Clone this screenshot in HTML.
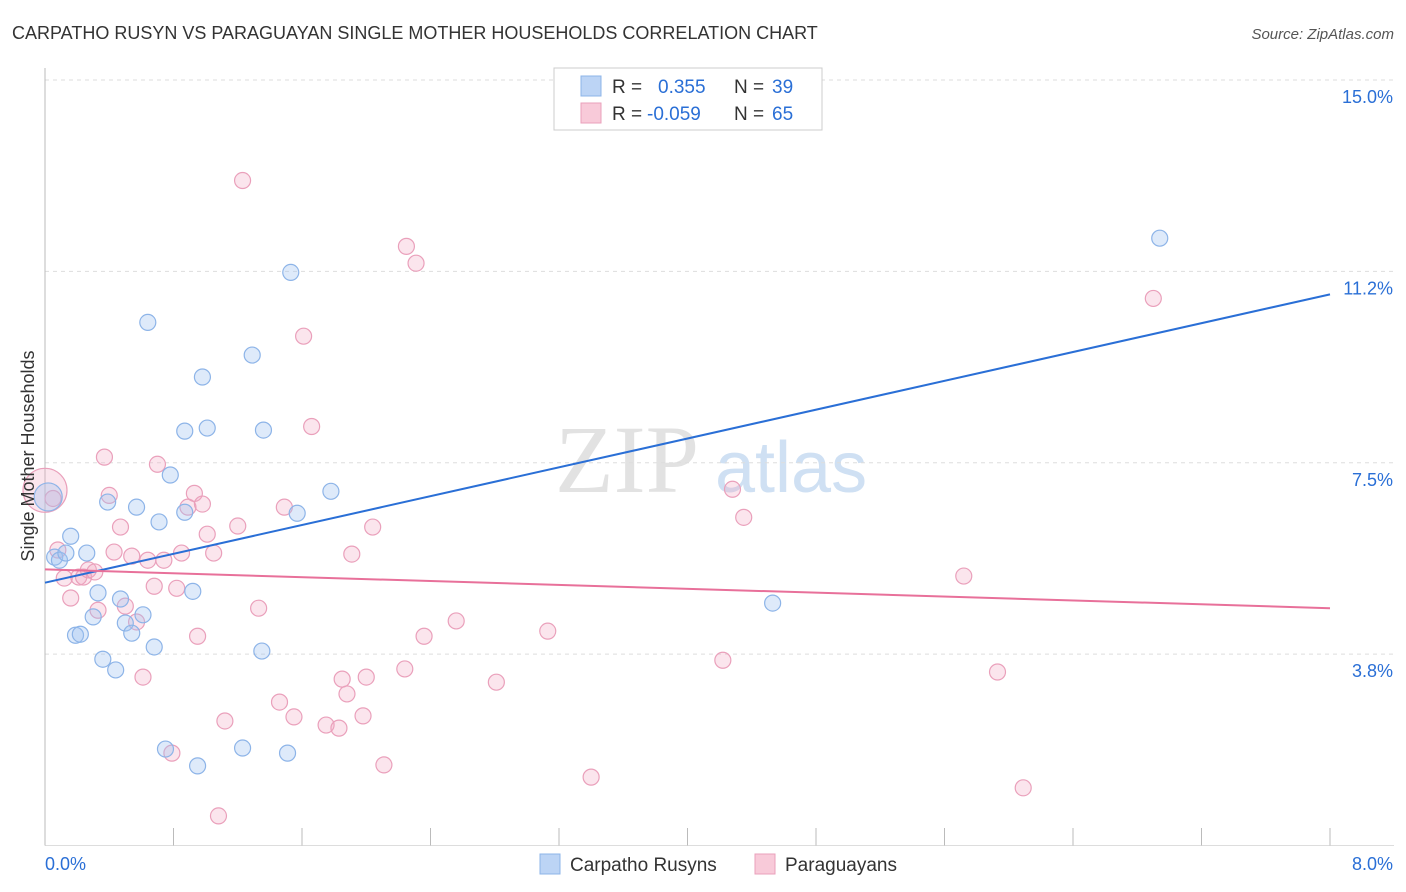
<!DOCTYPE html>
<html><head><meta charset="utf-8"><style>
body{margin:0;background:#fff;font-family:"Liberation Sans",sans-serif;}
svg{display:block}
</style></head><body>
<svg id="chart" width="1406" height="892" viewBox="0 0 1406 892">
<text x="12" y="39" font-size="18" fill="#333">CARPATHO RUSYN VS PARAGUAYAN SINGLE MOTHER HOUSEHOLDS CORRELATION CHART</text>
<text x="1394" y="39" font-size="15" fill="#555" font-style="italic" text-anchor="end">Source: ZipAtlas.com</text>
<g>
<text x="555" y="492" font-size="96" font-family="Liberation Serif,serif" fill="#e2e2e2">ZIP</text>
<text x="715" y="492" font-size="72" fill="#cfe0f3">atlas</text>
</g>
<g id="grid"></g>
<g id="axes"></g>
<g id="points"></g>
<g id="lines"></g>
<g>
<rect x="554" y="68" width="268" height="62" fill="#fff" stroke="#ccc"/>
<rect x="581" y="76" width="20" height="20" fill="#bcd4f5" stroke="#8db4e8"/>
<text x="612" y="93" font-size="19" fill="#333">R = </text><text x="658" y="93" font-size="19" fill="#2a6fd6">0.355</text>
<text x="734" y="93" font-size="19" fill="#333">N = </text><text x="772" y="93" font-size="19" fill="#2a6fd6">39</text>
<rect x="581" y="103" width="20" height="20" fill="#f8cad9" stroke="#eaa0bb"/>
<text x="612" y="120" font-size="19" fill="#333">R = </text><text x="647" y="120" font-size="19" fill="#2a6fd6">-0.059</text>
<text x="734" y="120" font-size="19" fill="#333">N = </text><text x="772" y="120" font-size="19" fill="#2a6fd6">65</text>
</g>
<g>
<rect x="540" y="854" width="20" height="20" fill="#bcd4f5" stroke="#8db4e8"/>
<text x="570" y="871" font-size="19" fill="#333">Carpatho Rusyns</text>
<rect x="755" y="854" width="20" height="20" fill="#f8cad9" stroke="#eaa0bb"/>
<text x="785" y="871" font-size="19" fill="#333">Paraguayans</text>
</g>
<text transform="translate(34,456) rotate(-90)" font-size="18" fill="#333" text-anchor="middle">Single Mother Households</text>
</svg>
<script>
const blueX=[0.06,0.09,0.13,0.16,0.26,0.39,0.33,0.30,0.19,0.22,0.36,0.44,0.47,0.50,0.54,0.61,0.57,0.64,0.71,0.78,0.68,0.75,0.87,0.87,0.92,0.95,0.98,1.01,1.23,1.29,1.36,1.35,1.51,1.53,1.57,1.78,4.53,6.94,0.02];
const blueY=[5.65,5.59,5.73,6.06,5.73,6.73,4.95,4.48,4.12,4.14,3.65,3.44,4.83,4.36,4.16,4.52,6.63,10.25,6.34,7.26,3.89,1.89,8.12,6.53,4.98,1.56,9.18,8.18,1.91,9.61,8.14,3.81,1.81,11.23,6.51,6.94,4.75,11.90,6.83];
const pinkX=[0.0,0.05,0.08,0.12,0.16,0.21,0.24,0.27,0.31,0.33,0.37,0.40,0.43,0.47,0.50,0.54,0.57,0.61,0.64,0.68,0.70,0.74,0.82,0.85,0.89,0.93,0.95,0.98,1.01,1.05,1.12,1.08,1.20,1.23,1.33,1.46,1.49,1.55,1.61,1.66,1.75,1.83,1.85,1.88,1.91,1.98,2.00,2.04,2.11,2.24,2.25,2.31,2.36,2.56,2.81,3.13,3.40,4.22,4.28,4.35,5.72,5.93,6.09,6.90,0.79];
const pinkY=[6.96,6.80,5.79,5.24,4.85,5.26,5.26,5.40,5.36,4.61,7.61,6.86,5.75,6.24,4.69,5.67,4.38,3.30,5.59,5.08,7.47,5.59,5.04,5.73,6.63,6.90,4.10,6.69,6.10,5.73,2.44,0.58,6.26,13.03,4.65,2.81,6.63,2.52,9.98,8.21,2.36,2.30,3.26,2.97,5.71,2.54,3.30,6.24,1.58,3.46,11.74,11.41,4.10,4.40,3.20,4.20,1.34,3.63,6.98,6.43,5.28,3.40,1.13,10.72,1.81];
const blueTrend=[5.15,10.80];
const pinkTrend=[5.41,4.65];
const yTicks=[3.75,7.5,11.25,15.0];
const yTickLabels=["3.8%","7.5%","11.2%","15.0%"];
const xTicks=[0,0.8,1.6,2.4,3.2,4.0,4.8,5.6,6.4,7.2,8.0];
const NS="http://www.w3.org/2000/svg";
const X0=45,X1=1330,Y0=845.5,YT=80;
const sx=v=>X0+(X1-X0)*v/8;
const sy=v=>Y0-(Y0-YT)*v/15;
function mk(tag,attrs,parent){const e=document.createElementNS(NS,tag);for(const k in attrs)e.setAttribute(k,attrs[k]);parent.appendChild(e);return e;}
const grid=document.getElementById('grid'),axes=document.getElementById('axes'),pts=document.getElementById('points'),lines=document.getElementById('lines');
yTicks.forEach((v,i)=>{
 const l=mk('line',{x1:X0,x2:1394,y1:sy(v),y2:sy(v),stroke:'#ddd','stroke-dasharray':'4,4'},grid);
 
 
 const t=mk('text',{x:1393,y:sy(v)+23,'font-size':18,fill:'#2a6fd6','text-anchor':'end'},grid);
 t.textContent=yTickLabels[i];
 
 
});
const ax=mk('line',{x1:X0,x2:X0,y1:68,y2:Y0,stroke:'#bbb'},axes);


const bx=mk('line',{x1:X0,x2:1394,y1:Y0,y2:Y0,stroke:'#ddd'},axes);


xTicks.forEach(v=>{
 const t=mk('line',{x1:sx(v),x2:sx(v),y1:828,y2:Y0,stroke:'#bbb'},axes);
 
 
});
const xl0=mk('text',{x:45,y:870,'font-size':18,fill:'#2a6fd6'},axes);xl0.textContent='0.0%';


const xl1=mk('text',{x:1393,y:870,'font-size':18,fill:'#2a6fd6','text-anchor':'end'},axes);xl1.textContent='8.0%';


function drawPts(xs,ys,fill,stroke,name){
 xs.forEach((x,i)=>{
  const big=(x<0.03);
  const c=mk('circle',{cx:sx(x),cy:sy(ys[i]),r:big?(name==='paraguayan-point'?22:14):8,fill:fill,stroke:stroke,'stroke-width':1.2},pts);
  
  
 });
}
drawPts(pinkX,pinkY,'rgba(242,170,196,0.3)','#eaa0bb','paraguayan-point');
drawPts(blueX,blueY,'rgba(160,196,240,0.35)','#8db4e8','carpatho-rusyn-point');
const bl=mk('line',{x1:sx(0),y1:sy(blueTrend[0]),x2:sx(8),y2:sy(blueTrend[1]),stroke:'#2a6fd6','stroke-width':2},lines);


const pl=mk('line',{x1:sx(0),y1:sy(pinkTrend[0]),x2:sx(8),y2:sy(pinkTrend[1]),stroke:'#e8709a','stroke-width':2},lines);


</script>
</body></html>
